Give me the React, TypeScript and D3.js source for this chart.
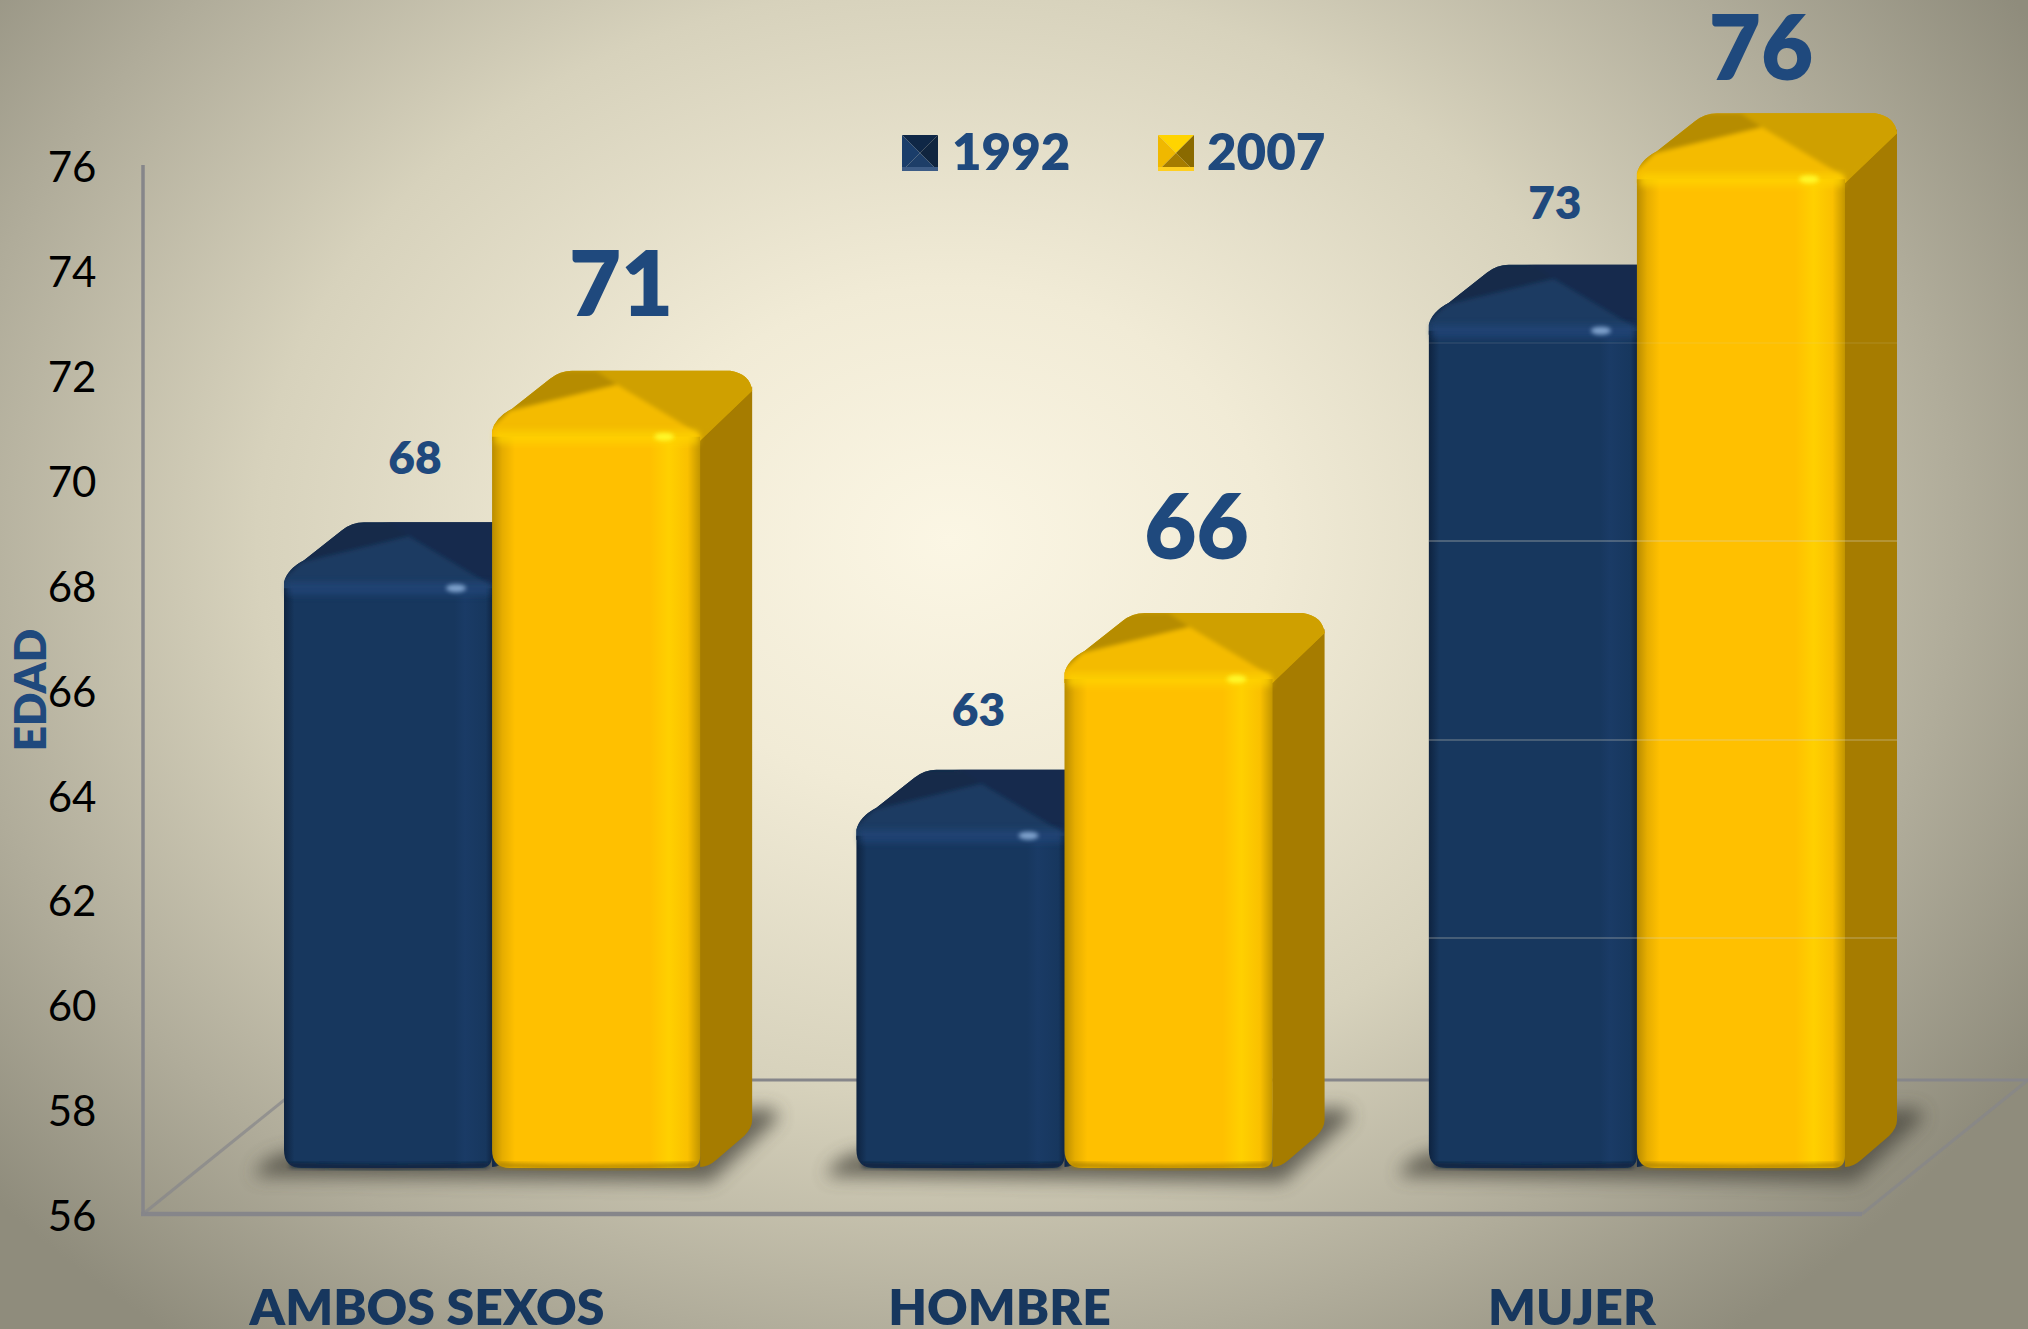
import React from "react";
import * as d3 from "d3";

const categories = ["AMBOS SEXOS", "HOMBRE", "MUJER"];
const series = ["1992", "2007"];
const values1992 = [67.6, 62.7, 72.7];
const values2007 = [70.6, 65.8, 75.7];
const labels1992 = ["68", "63", "73"];
const labels2007 = ["71", "66", "76"];
const yTicks = d3.range(56, 78, 2);

const W = 2028, H = 1329;
const FONT = "Lato, Carlito, Calibri, sans-serif";
const BLUE_TXT = "#1f497d", CAT_TXT = "#17375e";
const DX = 52, DY = 60;

const yAxis = d3.scaleLinear().domain([56, 76]).range([1216, 167]);
const yBar = d3.scaleLinear().domain([56, 76]).range([1168, 158]);
const x0 = d3.scaleBand().domain(categories).range([284, 1845]).paddingInner(0.273);
const x1 = d3.scaleBand().domain(series).range([0, x0.bandwidth()]);

const pal = {
  "1992": { grad: "gB", top: "#1a3a62", left: "#12294a", right: "#132c4d", side: "#12294a", hi: "#8fb2dc", band: "#21477a", edge: "#0a1a30" },
  "2007": { grad: "gY", top: "#f4bb00", left: "#b68c00", right: "#cfa000", side: "#a67c00", hi: "#ffff30", band: "#ffd400", edge: "#9c7600" },
};

function Bar({ s, cat, v }: { s: "1992" | "2007"; cat: string; v: number }) {
  const a = x0(cat)! + x1(s)!;
  const w = x1.bandwidth();
  const b = a + w;
  const t = yBar(v);
  const base = yBar(56);
  const c = pal[s];
  const r = 18;
  const id = `clip-${s}-${categories.indexOf(cat)}`;
  const peakX = a + w * 0.6, peakY = t - 46;
  const tr = t - DY;
  const side = `M${b - 2},${t + 8} L${b + DX},${tr + 16} L${b + DX},${base - DY + 12} Q${b + DX},${base - DY + 20} ${b + DX - 8},${base - DY + 28} L${b + 16},${base - 8} Q${b + 8},${base - 1} ${b},${base - 1} Z`;
  const front = `M${a},${t + 6} L${b},${t + 6} L${b},${base - 12} Q${b},${base} ${b - 12},${base} L${a + r},${base} Q${a},${base} ${a},${base - r} Z`;
  const outline = `M${a},${t + 10} L${a},${t} Q${a + 3},${t - 13} ${a + 20},${t - 22} L${a + 58},${tr + 8} Q${a + 68},${tr} ${a + 80},${tr} L${b + DX - 22},${tr} Q${b + DX - 2},${tr + 3} ${b + DX},${tr + 20} L${b},${t + 10} Z`;
  const backLeft = `M${a - 4},${t + 2} L${a + 30},${tr} L${peakX + 60},${tr} L${peakX},${peakY} Z`;
  const backRight = `M${peakX},${peakY} L${peakX - 30},${tr - 6} L${b + DX + 6},${tr - 6} L${b + DX + 6},${tr + 20} L${b},${t + 8} Z`;
  const frontTop = `M${a - 4},${t + 12} L${a - 4},${t} L${a + 18},${t - 20} L${peakX},${peakY} L${b},${t + 4} L${b},${t + 12} Z`;
  return (
    <g>
      <clipPath id={id}><path d={outline} /></clipPath>
      <path d={side} fill={c.side} />
      <g clipPath={`url(#${id})`}>
        <rect x={a - 5} y={tr - 6} width={w + DX + 10} height={DY + 18} fill={c.right} />
        <g filter="url(#b2)">
          <path d={backLeft} fill={c.left} />
          <path d={backRight} fill={c.right} />
          <path d={frontTop} fill={c.top} />
        </g>
      </g>
      <path d={front} fill={`url(#${c.grad})`} />
      <rect x={a + 3} y={t} width={w - 5} height={13} fill={c.band} filter="url(#b3)" opacity={0.7} />
      <ellipse cx={b - 36} cy={t + 6} rx={10} ry={4} fill={c.hi} filter="url(#b2)" opacity={0.85} />
      <path d={`M${a + 6},${base - 3} Q${a + w / 2},${base + 1} ${b - 4},${base - 3}`} stroke={c.edge} strokeWidth={5} fill="none" filter="url(#b2)" opacity={0.75} />
    </g>
  );
}

function Shadow({ cat }: { cat: string }) {
  const a = x0(cat)!;
  const b = a + x0.bandwidth();
  const base = yBar(56);
  return (
    <path
      d={`M${a - 30},${base + 8} Q${a - 20},${base - 14} ${a + 10},${base - 16} L${b + DX + 10},${base - DY} Q${b + DX + 34},${base - DY + 2} ${b + DX + 22},${base - DY + 14} L${b + 10},${base + 14} Z`}
      fill="#4b493f"
      opacity={0.78}
      filter="url(#b8)"
    />
  );
}

function Swatch({ x, y, c1, c2, c3, c4, strip }: { x: number; y: number; c1: string; c2: string; c3: string; c4: string; strip: string }) {
  const s = 36, cx = x + s / 2, cy = y + s / 2;
  return (
    <g>
      <path d={`M${x},${y} L${x + s},${y} L${cx},${cy} Z`} fill={c1} />
      <path d={`M${x},${y} L${x},${y + s} L${cx},${cy} Z`} fill={c2} />
      <path d={`M${x + s},${y} L${x + s},${y + s} L${cx},${cy} Z`} fill={c3} />
      <path d={`M${x},${y + s} L${x + s},${y + s} L${cx},${cy} Z`} fill={c4} />
      <rect x={x} y={y + s - 4} width={s} height={4} fill={strip} />
    </g>
  );
}

const smallNudgeX = [27, 18, 22];
const smallNudgeY = [-125, -120, -122];
const bigNudgeX = [25, 28, 20];

export default function App() {
  const seams = [[343, 0.18], [541, 0.55], [740, 0.5], [938, 0.5]];
  const mujer = x0("MUJER")!;
  return (
    <svg width={W} height={H} viewBox={`0 0 ${W} ${H}`} style={{ position: "absolute", left: 0, top: 0, display: "block" }}>
      <defs>
        <radialGradient id="bg" gradientUnits="userSpaceOnUse" cx={0} cy={0} r={1} gradientTransform="translate(950 540) scale(1260 1010)">
          <stop offset="0" stopColor="#fbf6e4" />
          <stop offset="0.25" stopColor="#f1ebd6" />
          <stop offset="0.55" stopColor="#d7d2bc" />
          <stop offset="0.8" stopColor="#b0ac9a" />
          <stop offset="1" stopColor="#8f8c7c" />
        </radialGradient>
        <linearGradient id="gB" x1="0" x2="1" y1="0" y2="0">
          <stop offset="0" stopColor="#0e2340" />
          <stop offset="0.05" stopColor="#17375e" />
          <stop offset="0.82" stopColor="#17375e" />
          <stop offset="0.87" stopColor="#1a3b66" />
          <stop offset="0.97" stopColor="#17375e" />
          <stop offset="1" stopColor="#0f2645" />
        </linearGradient>
        <linearGradient id="gY" x1="0" x2="1" y1="0" y2="0">
          <stop offset="0" stopColor="#b98c00" />
          <stop offset="0.05" stopColor="#e6ad00" />
          <stop offset="0.11" stopColor="#ffc000" />
          <stop offset="0.76" stopColor="#ffc000" />
          <stop offset="0.85" stopColor="#ffd000" />
          <stop offset="0.94" stopColor="#fac000" />
          <stop offset="1" stopColor="#c29500" />
        </linearGradient>
        <filter id="b2" x="-30%" y="-200%" width="160%" height="500%"><feGaussianBlur stdDeviation="2" /></filter>
        <filter id="b3" x="-10%" y="-100%" width="120%" height="300%"><feGaussianBlur stdDeviation="3" /></filter>
        <filter id="b8" x="-20%" y="-50%" width="140%" height="200%"><feGaussianBlur stdDeviation="9" /></filter>
      </defs>

      <rect width={W} height={H} fill="url(#bg)" />

      {/* walls and floor */}
      <g stroke="#86868a" fill="none">
        <line x1={143} y1={165} x2={143} y2={1214} strokeWidth={3.5} />
        <line x1={141} y1={1214} x2={1862} y2={1214} strokeWidth={4.5} />
        <line x1={143} y1={1214} x2={309} y2={1080} strokeWidth={3} opacity={0.7} />
        <line x1={1862} y1={1214} x2={2028} y2={1080} strokeWidth={3} opacity={0.7} />
        <line x1={309} y1={1080} x2={W} y2={1080} strokeWidth={3} />
      </g>

      {categories.map((c) => <Shadow key={c} cat={c} />)}

      {categories.map((c, i) => (
        <g key={c}>
          <Bar s="1992" cat={c} v={values1992[i]} />
          <Bar s="2007" cat={c} v={values2007[i]} />
        </g>
      ))}

      {seams.map(([y, o]) => (
        <line key={y} x1={mujer} x2={mujer + x0.bandwidth() + DX} y1={y} y2={y} stroke="#d8d4c4" strokeWidth={1} opacity={o} />
      ))}

      {/* tick labels */}
      {yTicks.map((t) => (
        <text key={t} x={72} y={yAxis(t)} dy="0.36em" textAnchor="middle" fontFamily={FONT} fontSize={42} fill="#000">{t}</text>
      ))}

      <text transform="translate(30 690) rotate(-90)" dy="0.36em" textAnchor="middle" fontFamily={FONT} fontWeight={800} fontSize={44} fill={BLUE_TXT}>EDAD</text>

      {/* value labels */}
      {categories.map((c, i) => {
        const bx = x0(c)! + x1("1992")! + x1.bandwidth() / 2;
        return (
          <text key={c} x={bx + smallNudgeX[i]} y={yBar(values1992[i]) + smallNudgeY[i]} dy="0.36em" textAnchor="middle" fontFamily={FONT} fontWeight={800} fontSize={46} fill={BLUE_TXT}>{labels1992[i]}</text>
        );
      })}
      {categories.map((c, i) => {
        const bx = x0(c)! + x1("2007")! + x1.bandwidth() / 2;
        return (
          <text key={c} x={bx + bigNudgeX[i]} y={Math.max(yBar(values2007[i]) - 147, 48)} dy="0.36em" textAnchor="middle" fontFamily={FONT} fontWeight={800} fontSize={90} fill={BLUE_TXT}>{labels2007[i]}</text>
        );
      })}

      {/* category labels */}
      {categories.map((c) => (
        <text key={c} x={x0(c)! + x0.bandwidth() / 2 - 65} y={1325} textAnchor="middle" fontFamily={FONT} fontWeight={800} fontSize={50} fill={CAT_TXT}>{c}</text>
      ))}

      {/* legend */}
      <Swatch x={902} y={135} c1="#0f2746" c2="#1a3d6a" c3="#10253f" c4="#1d3e68" strip="#3d5c86" />
      <text x={952} y={170} fontFamily={FONT} fontWeight={800} fontSize={51} fill={BLUE_TXT}>{series[0]}</text>
      <Swatch x={1158} y={135} c1="#ffd400" c2="#f0b800" c3="#8a6a00" c4="#a67c00" strip="#ffcf20" />
      <text x={1207} y={170} fontFamily={FONT} fontWeight={800} fontSize={51} fill={BLUE_TXT}>{series[1]}</text>
    </svg>
  );
}
